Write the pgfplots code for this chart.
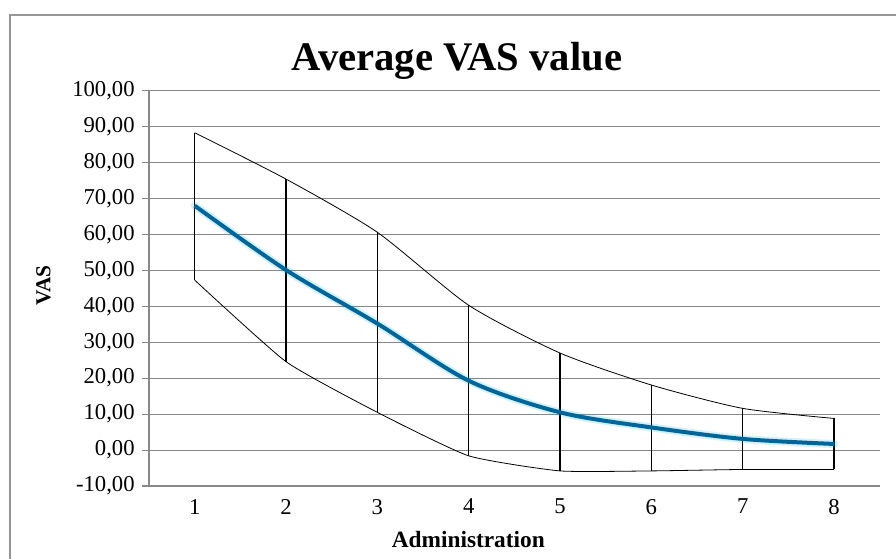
\documentclass[border=0pt]{standalone}
\usepackage{pgfplots}
\pgfplotsset{compat=1.18}
\usepackage{fontspec}
\setmainfont{Liberation Serif}
\definecolor{vasblue}{RGB}{0,102,153}
\definecolor{glow}{RGB}{0,176,240}
\definecolor{gridgray}{RGB}{136,136,136}
\definecolor{framegray}{RGB}{150,150,150}
\begin{document}
\begin{tikzpicture}
\useasboundingbox (0,0) rectangle (672pt,418.5pt);
\draw[framegray, line width=1pt] (7.5pt,-20pt) -- (7.5pt,407.25pt) -- (700pt,407.25pt);
\begin{axis}[
  at={(111.75pt,54pt)}, anchor=south west,
  scale only axis, width=548pt, height=296.5pt,
  xmin=0.5, xmax=8.5, ymin=-10, ymax=100,
  xtick={1,2,3,4,5,6,7,8},
  ytick={-10,0,10,20,30,40,50,60,70,80,90,100},
  axis y line=left, axis x line=bottom,
  axis line style={gridgray, line width=0.8pt, -},
  ymajorgrids, major grid style={gridgray, line width=0.8pt},
  tick align=outside, major tick length=5.25pt,
  ytick style={gridgray, line width=0.8pt},
  xtick style={draw=none},
  /pgf/number format/assume math mode=true,
  yticklabel style={/pgf/number format/fixed, /pgf/number format/fixed zerofill, /pgf/number format/precision=2, /pgf/number format/use comma, xshift=-2pt},
  ticklabel style={font=\fontsize{17}{20}\selectfont},
  xticklabel style={yshift=-1pt},
  title={\textbf{Average VAS value}},
  title style={font=\fontsize{30.5}{36}\selectfont, at={(axis description cs:0.4215,1)}, anchor=base, yshift=9pt},
  xlabel={\textbf{Administration}},
  xlabel style={font=\fontsize{17.5}{20}\selectfont, at={(axis description cs:0.437,0)}, anchor=base, yshift=-45.75pt},
  ylabel={\textbf{VAS}},
  ylabel style={font=\fontsize{16}{19}\selectfont, at={(axis description cs:-0.1444,0.508)}, anchor=center},
  unbounded coords=jump,
  clip=false,
]
% vertical range lines
\addplot[black, line width=0.8pt] coordinates {
 (1,47.3) (1,88.3) (1,nan)
 (2,24.6) (2,75.4) (2,nan)
 (3,10.5) (3,60.6) (3,nan)
 (4,-1.6) (4,40.3) (4,nan)
 (5,-5.8) (5,27.0) (5,nan)
 (6,-5.8) (6,18.1) (6,nan)
 (7,-5.4) (7,11.6) (7,nan)
 (8,-5.4) (8,8.8)
};
% upper
\addplot[black, line width=0.6pt, smooth, tension=0.4] coordinates {
 (1,88.3) (2,75.4) (3,60.6) (4,40.3) (5,27.0) (6,18.1) (7,11.6) (8,8.8)
};
% lower
\addplot[black, line width=0.6pt, smooth, tension=0.3] coordinates {
 (1,47.3) (2,24.6) (3,10.5) (4,-1.6) (5,-5.8) (6,-5.8) (7,-5.4) (8,-5.4)
};
% mean glow
\addplot[glow, opacity=0.18, line width=6pt, smooth, line cap=round] coordinates {
 (1,68.0) (2,50.1) (3,35.2) (4,19.3) (5,10.5) (6,6.3) (7,3.1) (8,1.7)
};
% mean
\addplot[vasblue, line width=3pt, smooth] coordinates {
 (1,68.0) (2,50.1) (3,35.2) (4,19.3) (5,10.5) (6,6.3) (7,3.1) (8,1.7)
};
\end{axis}
\end{tikzpicture}
\end{document}
